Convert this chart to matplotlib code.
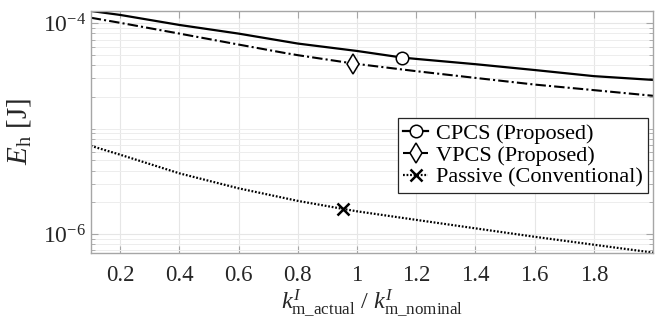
import matplotlib
matplotlib.use("Agg")
import matplotlib.pyplot as plt
from matplotlib.ticker import FixedLocator, FuncFormatter, LogLocator, NullFormatter
import numpy as np

plt.rcParams['font.family'] = ['Liberation Serif', 'DejaVu Serif']
plt.rcParams['mathtext.fontset'] = 'custom'
plt.rcParams['mathtext.rm'] = 'Liberation Serif'
plt.rcParams['mathtext.it'] = 'Liberation Serif:italic'

# Data
cpcs_x = [0.1, 0.2, 0.4, 0.6, 0.8, 1.0, 1.152, 1.2, 1.4, 1.6, 1.8, 2.0]
cpcs_y = [1.31e-4, 1.20e-4, 9.64e-5, 7.98e-5, 6.42e-5, 5.46e-5, 4.73e-5, 4.59e-5, 4.09e-5, 3.60e-5, 3.15e-5, 2.90e-5]
cpcs_mark = 6

vpcs_x = [0.1, 0.2, 0.4, 0.6, 0.755, 0.8, 0.988, 1.2, 1.4, 1.6, 1.8, 2.0]
vpcs_y = [1.13e-4, 1.01e-4, 7.98e-5, 6.28e-5, 5.23e-5, 4.98e-5, 4.15e-5, 3.51e-5, 3.03e-5, 2.62e-5, 2.32e-5, 2.05e-5]
vpcs_mark = 6

passive_x = [0.1, 0.2, 0.4, 0.6, 0.8, 0.952, 1.0, 1.2, 1.4, 1.6, 1.8, 2.0]
passive_y = [6.87e-6, 5.65e-6, 3.76e-6, 2.71e-6, 2.06e-6, 1.73e-6, 1.64e-6, 1.36e-6, 1.13e-6, 9.4e-7, 7.9e-7, 6.65e-7]
passive_mark = 5

labels = ['CPCS (Proposed)', 'VPCS (Proposed)', 'Passive (Conventional)']
xticks = [0.2, 0.4, 0.6, 0.8, 1.0, 1.2, 1.4, 1.6, 1.8]
yticks = [1e-6, 1e-4]

fig = plt.figure(figsize=(6.62, 3.21), dpi=100)
ax = fig.add_axes([0.137, 0.212, 0.8494, 0.755])

ax.plot(cpcs_x, cpcs_y, '-', color='black', lw=1.6, marker='o', markevery=[cpcs_mark],
        markersize=9, markerfacecolor='white', markeredgecolor='black', markeredgewidth=1.1, label=labels[0])
ax.plot(vpcs_x, vpcs_y, color='black', lw=1.5, dashes=(5, 1.5, 1, 1.5), marker='d', markevery=[vpcs_mark],
        markersize=10, markerfacecolor='white', markeredgecolor='black', markeredgewidth=1.1, label=labels[1])
ax.plot(passive_x, passive_y, color='black', lw=1.6, dashes=(0.8, 0.8), marker='x', markevery=[passive_mark],
        markersize=9, markeredgewidth=1.8, label=labels[2])

ax.set_yscale('log')
ax.set_xlim(0.1, 2.0)
ax.set_ylim(6.6e-7, 1.32e-4)

ax.xaxis.set_major_locator(FixedLocator(xticks))
ax.xaxis.set_major_formatter(FuncFormatter(lambda v, p: '%g' % v))
ax.yaxis.set_major_locator(FixedLocator(yticks))
ax.yaxis.set_major_formatter(FuncFormatter(lambda v, p: r'$10^{%d}$' % int(round(np.log10(v)))))
ax.yaxis.set_minor_locator(LogLocator(base=10, subs=np.arange(1, 10), numticks=20))
ax.yaxis.set_minor_formatter(NullFormatter())

ax.grid(True, which='major', color='#e6e6e6', lw=0.8)
ax.grid(True, which='minor', axis='y', color='#ededed', lw=0.7)
ax.set_axisbelow(True)

for s in ax.spines.values():
    s.set_color('#a6a6a6')
    s.set_linewidth(1.0)
ax.tick_params(which='both', direction='in', top=True, right=True, colors='#a6a6a6',
               labelcolor='#262626', labelsize=16.5)
ax.tick_params(axis='y', labelsize=17)
ax.tick_params(which='major', length=5)
ax.tick_params(which='minor', length=3)
ax.tick_params(axis='x', pad=9)

ax.set_ylabel(r'$E_{\mathrm{h}}$ [J]', fontsize=21, color='#262626', labelpad=7)
ax.set_xlabel(r'$k^{I}_{\mathrm{m\_actual}}$ / $k^{I}_{\mathrm{m\_nominal}}$', fontsize=17.5,
              color='#262626', labelpad=1)

leg = ax.legend(loc='upper right', bbox_to_anchor=(0.991, 0.557), fontsize=16, fancybox=False,
                framealpha=1, edgecolor='#262626', handlelength=1.1, handletextpad=0.35,
                borderpad=0.25, labelspacing=0.05, borderaxespad=0)
leg.get_frame().set_linewidth(0.9)

fig.savefig('out.png', dpi=100)
